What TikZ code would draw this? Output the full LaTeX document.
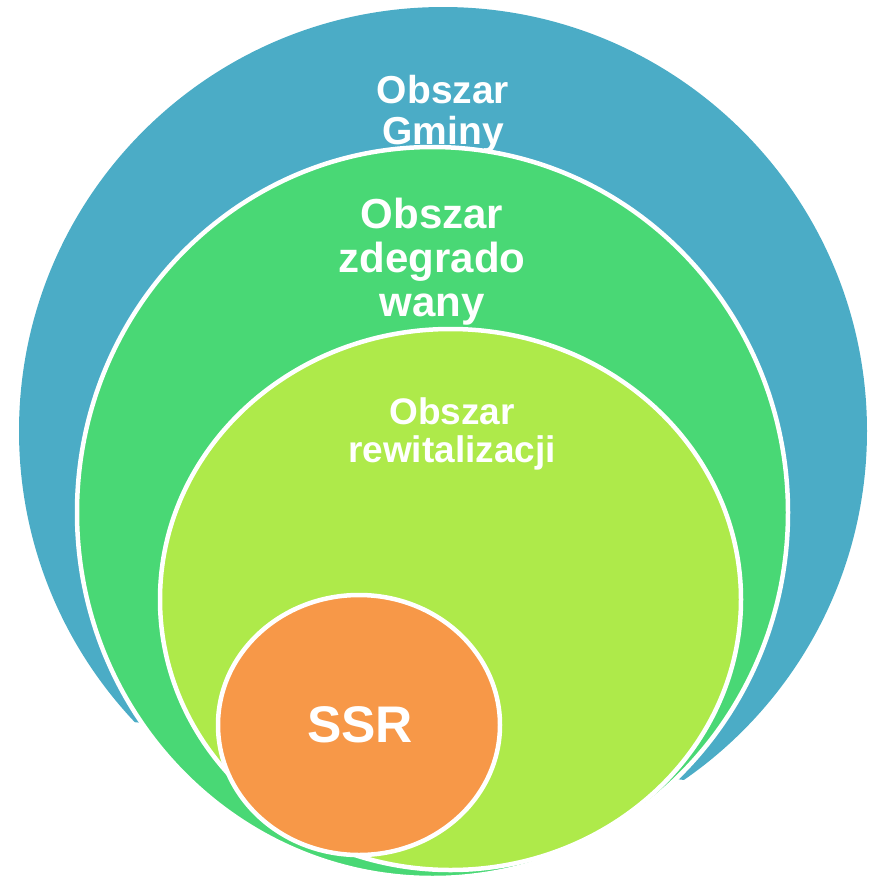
\documentclass[tikz,border=0pt]{standalone}
\usepackage{fontspec}
\setmainfont{Liberation Sans}

\definecolor{gminaBlue}{RGB}{75,172,198}
\definecolor{zdegGreen}{RGB}{73,216,117}
\definecolor{rewitLime}{RGB}{174,234,74}
\definecolor{ssrOrange}{RGB}{247,152,72}

\begin{document}
\begin{tikzpicture}[x=1pt,y=-1pt,
  ring/.style={draw=white,line width=4.5pt},
  lbl/.style={text=white,align=center,inner sep=0pt,anchor=base}]
\useasboundingbox (0,0) rectangle (873,879);

\coordinate (C0) at (443,431);
\coordinate (C1) at (432.5,512.5);
\coordinate (C2) at (450.5,599.5);
\coordinate (C3) at (359,725);

\begin{scope}
\clip (0,0) -- (873,0) -- (873,799.8) -- (0,708) -- cycle;
\fill[gminaBlue] (C0) circle [radius=424];
\end{scope}

\filldraw[ring,fill=zdegGreen] (C1) ellipse [x radius=355.5,y radius=365.5];

\filldraw[ring,fill=rewitLime] (C2) ellipse [x radius=290.5,y radius=270.5];

\filldraw[ring,fill=ssrOrange] (C3) ellipse [x radius=141,y radius=130];

\node[lbl,font=\bfseries\fontsize{39}{40.5}\selectfont] (gmina) at (443,144) {Obszar\\Gminy};
\node[lbl,font=\bfseries\fontsize{42}{44}\selectfont] (zdeg) at (432,316) {Obszar\\zdegrado\\wany};
\node[lbl,font=\bfseries\fontsize{37}{38}\selectfont] (rewit) at (452,462) {Obszar\\rewitalizacji};
\node[lbl,font=\bfseries\fontsize{51.5}{52}\selectfont] (ssr) at (360,742) {SSR};

\end{tikzpicture}
\end{document}
